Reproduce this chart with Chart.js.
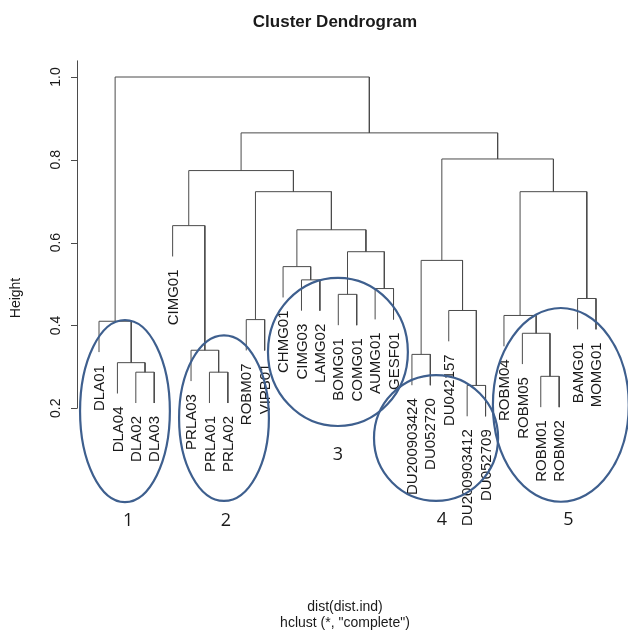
<!DOCTYPE html>
<html>
<head>
<meta charset="utf-8">
<script src="https://cdn.jsdelivr.net/npm/chart.js@4.4.1/dist/chart.umd.min.js"></script>
<style>
  html, body { margin: 0; padding: 0; background: #fff; }
  #wrap { width: 628px; height: 634px; position: relative; }
</style>
</head>
<body>
<div id="wrap"><canvas id="dendro"></canvas></div>
<script>
// leaf labels in plotted order
const leafLabels = [
    'DLA01', 'DLA04', 'DLA02', 'DLA03', 'CIMG01', 'PRLA03', 'PRLA01', 'PRLA02',
    'ROBM07', 'VIPB01', 'CHMG01', 'CIMG03', 'LAMG02', 'BOMG01', 'COMG01',
    'AUMG01', 'GESF01', 'DU200903424', 'DU052720', 'DU042157', 'DU200903412',
    'DU052709', 'ROBM04', 'ROBM05', 'ROBM01', 'ROBM02', 'BAMG01', 'MOMG01'
];

// merge steps, R style: negative = leaf (1-based position), positive = earlier merge
const mergeLeft  = [-3, -2, -1, -7, -6, -5, -9, -12, -11, -14, -16, 10, 9, 7, 6, -18, -21, -20, 16, -25, -24, -23, -27, 22, 19, 15, 3];
const mergeRight = [-4,  1,  2, -8,  4,  5, -10, -13, 8, -15, -17, 11, 12, 13, 14, -19, -22, 17, 18, -26, 20, 21, -28, 23, 24, 25, 26];
const mergeHeight = [0.287, 0.31, 0.41, 0.287, 0.34, 0.641, 0.414, 0.51, 0.542, 0.475, 0.489, 0.578,
    0.631, 0.723, 0.774, 0.33, 0.255, 0.436, 0.557, 0.277, 0.381, 0.424, 0.465, 0.723, 0.802, 0.865, 1.0];

const yTicks = [0.2, 0.4, 0.6, 0.8, 1.0];

// hand-drawn cluster rings (centre in leaf/height units, radii in same units)
const ringNames = ['1', '2', '3', '4', '5'];
const ringX  = [2.41, 7.79, 13.98, 19.31, 26.09];
const ringY  = [0.193, 0.176, 0.336, 0.128, 0.208];
const ringRx = [2.44, 2.44, 3.80, 3.37, 3.69];
const ringRy = [0.22, 0.20, 0.179, 0.152, 0.234];
const ringLabelX = [2.58, 7.9, 13.98, 19.63, 26.5];
const ringLabelY = [-0.072, -0.072, 0.087, -0.07, -0.07];

const hang = 0.1 * (Math.max(...mergeHeight) - Math.min(...mergeHeight));

// node x = mean of children, leaves sit at 1..n
const nodeX = [];
const childX = (id) => id < 0 ? -id : nodeX[id - 1];
mergeHeight.forEach((h, i) => {
    nodeX.push((childX(mergeLeft[i]) + childX(mergeRight[i])) / 2);
});

const leafBottom = [];
const segments = mergeHeight.map((h, i) => {
    const ends = [mergeLeft[i], mergeRight[i]].map(id => {
        if (id < 0) {
            leafBottom[-id - 1] = h - hang;
            return { x: -id, y: h - hang };
        }
        return { x: nodeX[id - 1], y: mergeHeight[id - 1] };
    });
    return {
        data: [ends[0], { x: ends[0].x, y: h }, { x: ends[1].x, y: h }, ends[1]],
        borderColor: '#4b4b4b',
        borderWidth: 1,
        pointRadius: 0,
        fill: false,
        tension: 0
    };
});

const decorPlugin = {
    id: 'decor',
    afterDraw(chart) {
        const ctx = chart.ctx;
        const xs = chart.scales.x;
        const ys = chart.scales.y;
        ctx.save();
        ctx.fillStyle = '#1a1a1a';

        // title
        ctx.font = 'bold 17px "Liberation Sans", Arial, sans-serif';
        ctx.textAlign = 'center';
        ctx.textBaseline = 'middle';
        ctx.fillText('Cluster Dendrogram', 335, 22);

        // y axis
        const axX = 77;
        ctx.strokeStyle = '#4b4b4b';
        ctx.lineWidth = 1;
        ctx.beginPath();
        ctx.moveTo(axX + 0.5, ys.getPixelForValue(yTicks[0]));
        ctx.lineTo(axX + 0.5, ys.getPixelForValue(1.04));
        yTicks.forEach(t => {
            const py = Math.round(ys.getPixelForValue(t)) + 0.5;
            ctx.moveTo(axX - 6, py);
            ctx.lineTo(axX + 0.5, py);
        });
        ctx.stroke();

        ctx.font = '14px "Liberation Sans", Arial, sans-serif';
        yTicks.forEach(t => {
            ctx.save();
            ctx.translate(56, ys.getPixelForValue(t));
            ctx.rotate(-Math.PI / 2);
            ctx.fillText(t.toFixed(1), 0, 0);
            ctx.restore();
        });
        ctx.save();
        ctx.translate(16, 298);
        ctx.rotate(-Math.PI / 2);
        ctx.fillText('Height', 0, 0);
        ctx.restore();

        // leaf labels
        ctx.font = '15px "Liberation Sans", Arial, sans-serif';
        ctx.textAlign = 'right';
        leafLabels.forEach((lab, i) => {
            ctx.save();
            ctx.translate(xs.getPixelForValue(i + 1), ys.getPixelForValue(leafBottom[i]) + 13);
            ctx.rotate(-Math.PI / 2);
            ctx.fillText(lab, 0, 1);
            ctx.restore();
        });

        // x caption
        ctx.textAlign = 'center';
        ctx.font = '14px "Liberation Sans", Arial, sans-serif';
        ctx.fillText('dist(dist.ind)', 345, 607);
        ctx.fillText('hclust (*, "complete")', 345, 623);

        // cluster rings
        ctx.strokeStyle = '#3e5f8e';
        ctx.lineWidth = 2.2;
        ringNames.forEach((name, i) => {
            const cx = xs.getPixelForValue(ringX[i]);
            const cy = ys.getPixelForValue(ringY[i]);
            const rx = Math.abs(xs.getPixelForValue(ringX[i] + ringRx[i]) - cx);
            const ry = Math.abs(ys.getPixelForValue(ringY[i] + ringRy[i]) - cy);
            ctx.beginPath();
            ctx.ellipse(cx, cy, rx, ry, 0, 0, Math.PI * 2);
            ctx.stroke();
        });
        ctx.font = '18px "Open Sans", "DejaVu Sans", sans-serif';
        ringNames.forEach((name, i) => {
            ctx.fillText(name, xs.getPixelForValue(ringLabelX[i]), ys.getPixelForValue(ringLabelY[i]));
        });
        ctx.restore();
    }
};

new Chart(document.getElementById('dendro'), {
    type: 'line',
    data: { datasets: segments },
    options: {
        responsive: true,
        maintainAspectRatio: false,
        animation: false,
        parsing: true,
        layout: { padding: { left: 80.6, right: 13.6, top: 56.3, bottom: 184.4 } },
        plugins: { legend: { display: false }, tooltip: { enabled: false } },
        scales: {
            x: { type: 'linear', min: 0, max: 29, display: false },
            y: { type: 'linear', min: 0.1, max: 1.05, display: false }
        }
    },
    plugins: [decorPlugin]
});
</script>
</body>
</html>
